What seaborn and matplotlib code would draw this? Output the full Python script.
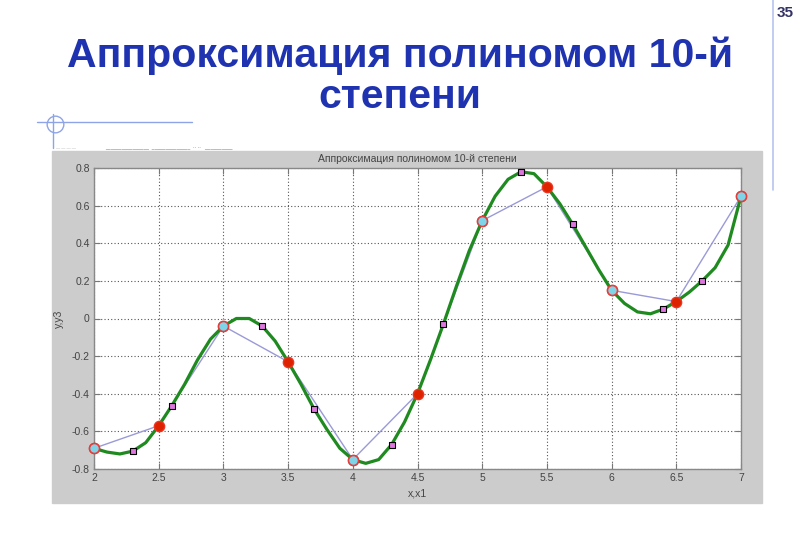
import numpy as np
import pandas as pd
import matplotlib
matplotlib.use("Agg")
import matplotlib.pyplot as plt
import seaborn as sns
from matplotlib.patches import Rectangle
from matplotlib.lines import Line2D

# data
x_nodes = [2, 2.5, 3, 3.5, 4, 4.5, 5, 5.5, 6, 6.5, 7]
y_nodes = [-0.69, -0.57, -0.04, -0.23, -0.75, -0.40, 0.52, 0.70, 0.15, 0.09, 0.65]

x_int = [2, 3, 4, 5, 6, 7]
y_int = [-0.69, -0.04, -0.75, 0.52, 0.15, 0.65]

x1 = [2.3, 2.6, 3.3, 3.7, 4.3, 4.7, 5.3, 5.7, 6.4, 6.7]
y3 = [-0.705, -0.465, -0.04, -0.48, -0.67, -0.03, 0.78, 0.50, 0.05, 0.20]

x_fit = [2.0, 2.1, 2.2, 2.3, 2.4, 2.5, 2.6, 2.7, 2.8, 2.9,
         3.0, 3.1, 3.2, 3.3, 3.4, 3.5, 3.6, 3.7, 3.8, 3.9,
         4.0, 4.1, 4.2, 4.3, 4.4, 4.5, 4.6, 4.7, 4.8, 4.9,
         5.0, 5.1, 5.2, 5.3, 5.4, 5.5, 5.6, 5.7, 5.8, 5.9,
         6.0, 6.1, 6.2, 6.3, 6.4, 6.5, 6.6, 6.7, 6.8, 6.9, 7.0]
y_fit = [-0.69, -0.71, -0.72, -0.705, -0.66, -0.57, -0.465, -0.35, -0.22, -0.11,
         -0.04, 0.0, 0.0, -0.04, -0.12, -0.23, -0.35, -0.48, -0.59, -0.69,
         -0.75, -0.77, -0.75, -0.67, -0.55, -0.40, -0.22, -0.03, 0.17, 0.36,
         0.52, 0.65, 0.74, 0.78, 0.77, 0.70, 0.61, 0.50, 0.38, 0.26,
         0.15, 0.08, 0.035, 0.025, 0.05, 0.09, 0.14, 0.20, 0.27, 0.39, 0.65]

x_ticks = [2, 2.5, 3, 3.5, 4, 4.5, 5, 5.5, 6, 6.5, 7]
y_ticks = [-0.8, -0.6, -0.4, -0.2, 0, 0.2, 0.4, 0.6, 0.8]

sns.set_style("white")
plt.rcParams['font.family'] = ['Liberation Sans', 'DejaVu Sans']

W, H = 800, 554
fig = plt.figure(figsize=(8, 5.54), dpi=100)
fig.patch.set_facecolor("white")

# slide title
title_col = "#1f33b0"
fig.text(400 / W, 1 - 56 / H, "Аппроксимация полиномом 10-й", ha="center", va="center",
         fontsize=29.5, fontweight="bold", color=title_col)
fig.text(400 / W, 1 - 97 / H, "степени", ha="center", va="center",
         fontsize=29.5, fontweight="bold", color=title_col)

# page number and decoration
fig.text(794 / W, 1 - 13 / H, "35", ha="right", va="center", fontsize=11,
         fontweight="bold", color="#333366")
deco = "#8ea4e6"
fig.add_artist(Line2D([773 / W, 773 / W], [1, 1 - 190 / H], color="#b8c4f0", lw=1.2))
fig.add_artist(Line2D([37 / W, 192 / W], [1 - 122 / H, 1 - 122 / H], color=deco, lw=1))
fig.add_artist(Line2D([53 / W, 53 / W], [1 - 114 / H, 1 - 148 / H], color=deco, lw=1))
fig.add_artist(Line2D([55 / W], [1 - 124 / H], marker="o", markersize=12,
                      markerfacecolor="none", markeredgecolor=deco, lw=0))
fig.text(56 / W, 1 - 148 / H, "— — — —", fontsize=3, color="#999999", va="center")
fig.text(105 / W, 1 - 148 / H, "________________  ______________  ·· ··   __________",
         fontsize=3.5, color="#3344bb", va="center")

# matlab figure background
fig.add_artist(Rectangle((52 / W, 1 - 503 / H), (762 - 52) / W, (503 - 151) / H,
                         transform=fig.transFigure, color="#cccccc", zorder=0))

ax = fig.add_axes([94 / W, 1 - 469 / H, (741 - 94) / W, (469 - 168) / H])
ax.set_facecolor("white")

sns.lineplot(x=x_nodes, y=y_nodes, ax=ax, color="#9a9ad8", lw=1, sort=False,
             estimator=None, zorder=2)
sns.lineplot(x=x_fit, y=y_fit, ax=ax, color="#1f8a1f", lw=2.3, sort=False,
             estimator=None, zorder=3)
sns.scatterplot(x=x_nodes, y=y_nodes, ax=ax, color="#dd2200", edgecolor="#ee3322",
                s=55, linewidth=1, zorder=4, clip_on=False)
sns.scatterplot(x=x_int, y=y_int, ax=ax, color="#7fd4e8", edgecolor="#e04040",
                s=50, linewidth=1, zorder=5, clip_on=False)
sns.scatterplot(x=x1, y=y3, ax=ax, marker="s", color="#dd77dd", edgecolor="black",
                s=18, linewidth=0.8, zorder=6, clip_on=False)

ax.set_xlim(2, 7)
ax.set_ylim(-0.8, 0.8)
ax.set_xticks(x_ticks)
ax.set_xticklabels(["2", "2.5", "3", "3.5", "4", "4.5", "5", "5.5", "6", "6.5", "7"])
ax.set_yticks(y_ticks)
ax.set_yticklabels(["-0.8", "-0.6", "-0.4", "-0.2", "0", "0.2", "0.4", "0.6", "0.8"])
ax.grid(True, linestyle=(0, (1, 2)), color="#555555", lw=0.8)
ax.tick_params(direction="in", length=4, color="#777777", labelsize=7.5,
               labelcolor="#444444", top=True, right=True, bottom=True, left=True,
               pad=3)
for s in ax.spines.values():
    s.set_color("#888888")
    s.set_linewidth(1)

ax.set_title("Аппроксимация полиномом 10-й степени", fontsize=7.5, color="#444444", pad=4)
ax.set_xlabel("x,x1", fontsize=7.5, color="#444444", labelpad=4)
ax.set_ylabel("y,y3", fontsize=7.5, color="#444444", labelpad=6)

fig.savefig("out.png", dpi=100)
